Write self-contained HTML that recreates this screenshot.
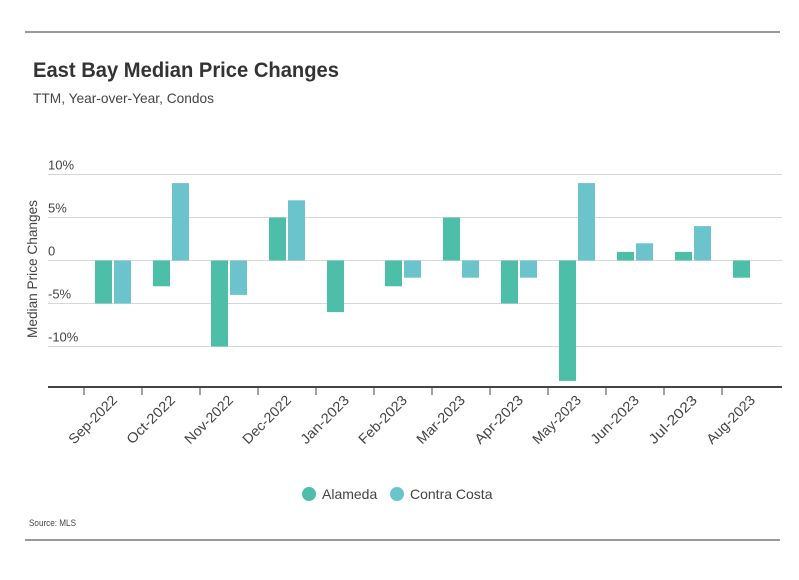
<!DOCTYPE html>
<html><head><meta charset="utf-8"><style>
body{margin:0;background:#fff;font-family:"Liberation Sans",sans-serif;}
svg text{font-family:"Liberation Sans",sans-serif;}
</style></head><body>
<svg id="c" width="799" height="575" xmlns="http://www.w3.org/2000/svg">
<line x1="25" y1="32" x2="780" y2="32" stroke="#333" stroke-width="1"/>
<text x="33" y="77" font-size="21" font-weight="bold" fill="#333" textLength="306" lengthAdjust="spacingAndGlyphs">East Bay Median Price Changes</text>
<text x="33" y="103" font-size="14" fill="#444" textLength="181" lengthAdjust="spacingAndGlyphs">TTM, Year-over-Year, Condos</text>
<text transform="translate(37,269) rotate(-90)" text-anchor="middle" font-size="14" fill="#444" textLength="138" lengthAdjust="spacingAndGlyphs">Median Price Changes</text>
<g id="grid"></g><g id="bars"></g><g id="xax"></g>
<g>
<circle cx="309" cy="494" r="7" fill="#4dbfa8"/>
<text x="322" y="499" font-size="14" fill="#444">Alameda</text>
<circle cx="397" cy="494" r="7" fill="#6bc3cc"/>
<text x="410" y="499" font-size="14" fill="#444">Contra Costa</text>
</g>
<text x="29" y="526" font-size="9" fill="#444" textLength="47" lengthAdjust="spacingAndGlyphs">Source: MLS</text>
<line x1="25" y1="540" x2="780" y2="540" stroke="#333" stroke-width="1"/>
</svg>
<script>
const categories=["Sep-2022","Oct-2022","Nov-2022","Dec-2022","Jan-2023","Feb-2023","Mar-2023","Apr-2023","May-2023","Jun-2023","Jul-2023","Aug-2023"];
const alameda=[-5,-3,-10,5,-6,-3,5,-5,-14,1,1,-2];
const contraCosta=[-5,9,-4,7,0,-2,-2,-2,9,2,4,0];
const yTicks=[10,5,0,-5,-10];
const yTickLabels=["10%","5%","0","-5%","-10%"];
const NS="http://www.w3.org/2000/svg";
function y(v){return 260.5-v*8.6;}
const x0=84,band=58;
function x(i){return x0+i*band;}
function mk(t,a,p){const e=document.createElementNS(NS,t);for(const k in a)e.setAttribute(k,a[k]);p.appendChild(e);return e;}
const G=document.getElementById('grid'),B=document.getElementById('bars'),X=document.getElementById('xax');
yTicks.forEach((v,i)=>{
 const l=mk('line',{x1:48,x2:782,y1:y(v),y2:y(v),stroke:'#d8d8d8','stroke-width':1},G);
 
 
 const t=mk('text',{x:48,y:y(v)-5,'font-size':13,fill:'#444'},G);t.textContent=yTickLabels[i];
 
 
});
function bar(v,cx,col,name){
 const top=Math.min(y(v),y(0)),h=Math.abs(y(v)-y(0));
 const r=mk('rect',{x:cx,y:top,width:17,height:Math.max(h,0),fill:col},B);
 
 
}
categories.forEach((c,i)=>{
 bar(alameda[i],x(i)+11,'#4dbfa8','bar-alameda');
 bar(contraCosta[i],x(i)+30,'#6bc3cc','bar-contra-costa');
 const tk=mk('line',{x1:x(i),x2:x(i),y1:387,y2:395,stroke:'#444','stroke-width':1},X);
 
 
 const cx=x(i)+band/2+5;
 const t=mk('text',{x:cx,y:401,'font-size':14,fill:'#444','text-anchor':'end',textLength:62,lengthAdjust:'spacingAndGlyphs',transform:`rotate(-45 ${cx} 401)`},X);
 t.textContent=c;
 
 
});
const ax=mk('line',{x1:48,x2:782,y1:387,y2:387,stroke:'#444','stroke-width':2},X);


</script>
</body></html>
